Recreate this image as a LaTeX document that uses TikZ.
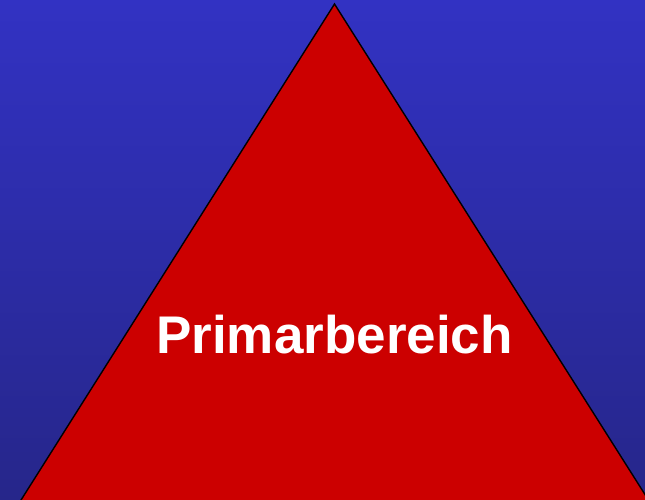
\documentclass[tikz,border=0pt]{standalone}
\usepackage{fontspec}
\setmainfont{Liberation Sans}
\definecolor{bgtop}{RGB}{50,50,195}
\definecolor{bgbot}{RGB}{38,38,138}
\definecolor{tri}{RGB}{204,0,0}
\begin{document}
\begin{tikzpicture}[x=1pt,y=-1pt,
  trianglestyle/.style={fill=tri,draw=black,line width=1.4pt,line join=miter},
  labelstyle/.style={text=white,font=\fontsize{53}{60}\selectfont\bfseries,inner sep=0pt,anchor=base}]
\useasboundingbox (0,0) rectangle (645,500);
\shade[top color=bgtop,bottom color=bgbot] (0,0) rectangle (645,500);
\begin{scope}
\clip (0,0) rectangle (645,500);
\coordinate (apex) at (334.5,4);
\coordinate (bl) at (18.5,504);
\coordinate (br) at (651,504);
\draw[trianglestyle] (apex) -- (br) -- (bl) -- cycle;
\end{scope}
\node[labelstyle] (label) at (334.5,353) {Primarbereich};
\end{tikzpicture}
\end{document}
